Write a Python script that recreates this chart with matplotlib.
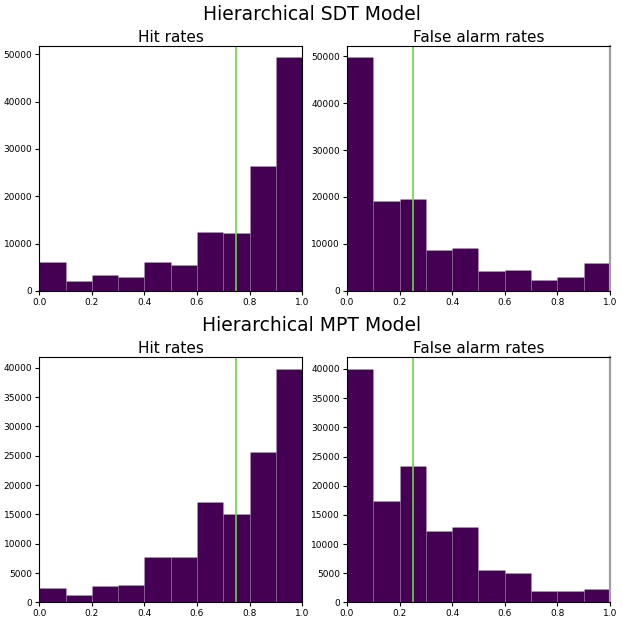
import numpy as np
import matplotlib
matplotlib.use("Agg")
import matplotlib.pyplot as plt

# bin edges shared by all four histograms
bin_edges = np.linspace(0, 1, 11)

# counts
sdt_hits = [6100, 2000, 3400, 2900, 6100, 5500, 12400, 12300, 26400, 49300]
sdt_fas = [49700, 19100, 19600, 8800, 9100, 4200, 4500, 2300, 3000, 6000]
mpt_hits = [2400, 1300, 2800, 3000, 7700, 7700, 17200, 15100, 25700, 39800]
mpt_fas = [40000, 17300, 23300, 12200, 13000, 5500, 5100, 2000, 2000, 2300]

true_hit = 0.75
true_fa = 0.25

models = ["Hierarchical SDT Model", "Hierarchical MPT Model"]
panel_titles = ["Hit rates", "False alarm rates"]
data = [[sdt_hits, sdt_fas], [mpt_hits, mpt_fas]]
truth = [true_hit, true_fa]

bar_color = "#440154"
line_color = "#6fd14a"

fig = plt.figure(figsize=(6.23, 6.23), dpi=100)
subfigs = fig.subfigures(2, 1)

for r, sf in enumerate(subfigs):
    sf.suptitle(models[r], fontsize=13.5, y=0.985)
    axes = sf.subplots(1, 2)
    sf.subplots_adjust(left=0.063, right=0.979, top=0.853, bottom=0.066, wspace=0.17)
    for c, ax in enumerate(axes):
        counts = data[r][c]
        ax.bar(bin_edges[:-1], counts, width=0.1, align="edge",
               color=bar_color, edgecolor=(1, 1, 1, 0.12), linewidth=0.6)
        ax.axvline(truth[c], color=line_color, linewidth=1.2)
        ax.set_xlim(0, 1)
        ax.set_title(panel_titles[c], fontsize=11, pad=3)
        ax.tick_params(labelsize=6.5, length=3, pad=2)
        if c == 1:
            ax.spines["right"].set_color("#a0a0a0")
            ax.spines["right"].set_linewidth(1.6)

fig.savefig("out.png", dpi=100)
